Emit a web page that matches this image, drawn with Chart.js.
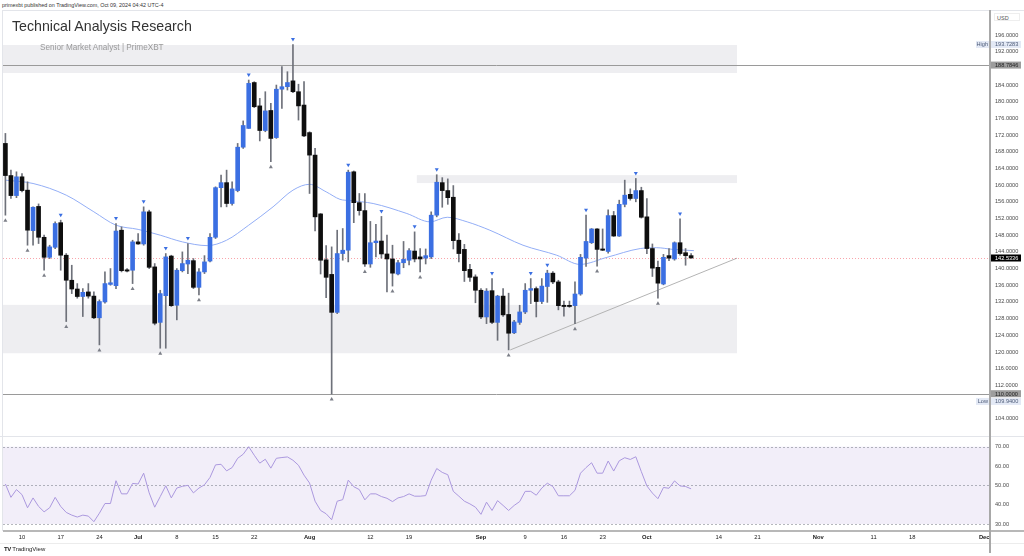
<!DOCTYPE html>
<html><head><meta charset="utf-8">
<script src="https://cdn.jsdelivr.net/npm/chart.js@4.4.1/dist/chart.umd.min.js"></script>
<style>
html,body{margin:0;padding:0;background:#fff;width:1024px;height:556px;overflow:hidden;font-family:'Liberation Sans',Arial,sans-serif;}
.abs{position:absolute;}
canvas{position:absolute;}
</style></head><body>
<div class="abs" style="left:2px;top:2px;font-size:5.4px;color:#333;white-space:nowrap">primexbt published on TradingView.com, Oct 09, 2024 04:42 UTC-4</div>
<div class="abs" style="left:3px;top:10px;width:1021px;height:1px;background:#e3e5ea"></div>
<div class="abs" style="left:2px;top:10px;width:1px;height:521px;background:#e3e5ea"></div>
<canvas id="main" width="1024" height="427" style="left:0;top:10px"></canvas>
<canvas id="rsi" width="1024" height="108" style="left:0;top:437px"></canvas>
<div class="abs" style="left:0;top:436px;width:1024px;height:1px;background:#e3e5ea"></div>
<div class="abs" style="left:3px;top:530px;width:1021px;height:2px;background:#b8b8b8"></div>
<div class="abs" style="left:0;top:543px;width:1024px;height:1px;background:#ececec"></div>
<div class="abs" style="left:989px;top:10px;width:1.5px;height:543px;background:#a8a8a8"></div>
<div class="abs" style="left:12px;top:18px;font-size:14.2px;color:#333;white-space:nowrap">Technical Analysis Research</div>
<div class="abs" style="left:40px;top:42.5px;font-size:8.2px;color:#9a9a9a;white-space:nowrap">Senior Market Analyst | PrimeXBT</div>
<div class="abs" style="left:994px;top:13px;width:26px;height:8px;border:1px solid #eee;background:#fff;font-size:5.5px;color:#555;line-height:8px;padding-left:2px;box-sizing:border-box">USD</div>
<div class="abs" style="left:4px;top:546px;font-size:6px;color:#222;white-space:nowrap"><b style="letter-spacing:-0.5px">TV</b> TradingView</div>
<script>
// ---------- data ----------
const open  = [170.0,162.3,157.5,162.0,158.8,149.1,154.9,147.5,142.7,145.1,151.0,143.2,137.2,135.1,133.3,134.4,133.4,128.2,132.0,136.2,135.9,149.2,139.7,139.6,146.4,145.9,153.6,140.4,127.1,133.5,143.0,131.2,139.5,141.1,141.9,135.5,139.2,141.8,147.5,159.4,160.6,155.6,158.7,169.1,173.6,184.6,179.0,173.1,177.9,171.4,183.0,183.6,185.0,182.4,179.2,172.6,167.2,153.1,142.1,138.6,129.5,143.6,144.4,163.2,155.8,153.9,141.1,146.2,146.6,143.5,142.3,138.7,141.4,142.0,144.2,142.8,142.5,142.8,152.8,160.6,158.7,157.1,146.8,144.6,139.8,138.0,134.8,128.4,134.7,127.1,133.4,129.0,124.6,127.1,129.6,134.8,135.2,132.1,135.7,138.9,136.8,131.2,131.1,131.1,133.9,142.5,146.2,149.5,144.7,144.1,152.7,147.8,155.4,157.8,156.8,158.7,152.4,144.8,140.3,136.3,143.1,142.3,146.2,143.8,143.1];
const high  = [172.4,163.6,163.2,162.8,160.8,154.8,155.5,148.0,145.6,151.2,151.6,143.6,140.8,136.4,135.2,136.4,134.4,132.5,139.2,140.0,150.8,150.0,140.0,146.8,148.4,154.8,154.0,141.2,134.8,143.6,143.2,140.0,144.0,146.0,142.4,140.0,143.1,148.4,159.6,162.4,163.6,160.8,170.0,175.4,185.2,184.8,180.8,182.4,179.6,184.0,188.4,187.2,193.7283,184.2,184.8,172.8,168.8,153.2,145.5,145.2,149.2,149.6,163.6,163.4,158.0,158.0,151.3,150.6,152.5,148.0,145.6,142.0,146.5,144.8,148.8,144.8,144.7,153.6,162.5,161.8,161.5,159.9,148.4,145.8,141.0,138.5,135.2,135.2,137.6,133.6,135.2,134.1,127.6,131.2,136.4,137.6,135.6,137.6,139.6,139.3,137.2,132.2,132.2,136.8,143.4,152.8,149.6,149.6,149.5,154.1,153.7,156.4,161.2,159.1,161.6,159.5,156.8,145.9,141.8,143.4,144.8,146.4,151.9,144.8,143.6];
const low   = [152.8,156.8,157.0,158.4,145.6,145.6,146.0,139.6,142.4,144.8,139.6,127.3,134.0,132.9,128.5,132.9,128.0,121.7,131.7,136.0,135.2,139.2,139.2,136.4,145.8,145.6,140.0,126.5,120.9,120.9,130.9,127.7,139.2,138.8,135.2,133.7,138.8,141.6,147.2,154.8,154.8,155.2,158.4,168.8,173.6,178.6,170.6,172.8,165.6,171.2,178.4,182.8,182.2,175.6,171.6,158.0,149.0,138.7,133.0,109.94,129.2,142.0,141.6,151.0,152.8,140.5,140.3,142.8,142.5,134.4,135.8,138.5,140.2,140.9,141.6,139.2,141.1,142.4,152.4,154.7,155.4,144.7,141.6,136.9,136.9,131.8,128.0,126.8,126.8,122.8,128.5,120.5,124.4,126.6,129.2,131.6,128.4,131.6,131.9,136.4,130.1,128.6,130.7,126.8,133.6,140.5,146.0,140.6,144.3,143.7,147.7,147.7,154.8,156.4,156.0,152.1,143.6,138.1,132.9,136.1,141.9,142.0,143.2,140.8,142.5];
const close = [162.3,157.5,162.0,158.7,149.2,154.7,147.5,142.7,145.2,150.8,143.2,137.2,135.1,133.3,134.3,133.4,128.2,132.1,136.4,136.6,149.0,139.5,139.4,146.4,145.9,153.6,140.3,126.9,134.0,142.8,131.1,139.6,141.2,142.0,135.5,139.2,141.6,147.5,159.4,160.6,155.6,159.1,169.1,174.3,184.4,178.8,173.1,177.8,171.2,183.0,183.6,184.6,182.4,179.0,171.8,167.2,152.4,142.0,137.9,129.5,143.6,144.4,163.1,155.8,153.9,141.1,146.2,146.6,143.5,142.3,138.9,141.4,142.2,144.3,142.3,142.3,143.1,152.8,160.7,158.7,157.0,146.7,143.6,139.5,137.9,134.8,128.4,134.6,127.1,133.4,128.9,124.5,127.2,129.6,134.8,135.2,132.1,135.8,138.9,136.8,131.1,130.9,130.9,133.9,142.7,146.5,149.5,144.6,144.4,152.7,147.8,155.4,157.6,156.8,158.7,152.3,144.8,140.1,136.5,142.7,142.5,146.2,143.6,143.1,142.5336];
const pivotHighIdx = [10,20,25,29,33,44,52,62,68,74,78,88,95,98,105,114,122];
const pivotLowIdx  = [0,4,7,11,17,23,28,35,48,59,65,70,75,91,103,107,118];
const maIdx = [0,5,11,16,20,24,28,32,36.5,40,44,48.4,52,55,58,60.5,62.3,66.5,72.6,76.8,79.9,83.5,87.6,93.6,99.7,103.9,108.8,114.8,117.8,120.7,124.5];
const maVal = [161.2,160.4,157.6,153.6,150.4,149.4,148.0,146.4,145.5,146.8,150.4,154.8,158.8,160.2,158.4,156.6,156.3,155.6,153.2,151.2,152.3,151.2,149.2,145.6,143.2,141.0,142.7,144.8,145.0,144.6,144.3];
const rsi = [50.7,43.8,47.8,45.2,38.4,43.5,39.1,36.3,38.4,43.8,39.1,36.0,34.6,33.6,34.6,34.1,31.2,35.6,40.6,40.6,52.4,45.6,45.6,51.0,50.7,56.3,46.1,38.7,44.2,49.8,43.5,48.6,49.5,50.0,46.1,48.6,50.3,54.1,60.6,60.9,57.5,59.2,64.0,66.1,70.0,65.6,61.5,63.5,58.9,64.0,64.4,64.7,63.0,60.4,55.3,51.2,41.8,37.0,35.3,32.2,41.8,42.6,52.7,49.3,47.8,42.5,45.6,45.6,44.2,43.3,41.6,43.5,44.2,45.6,44.4,44.4,44.7,52.7,58.7,56.7,55.5,46.9,44.4,41.8,40.4,38.7,35.0,41.3,37.0,42.1,39.6,37.0,39.6,41.6,46.9,46.9,44.9,48.6,51.1,49.4,44.6,44.6,44.6,47.4,56.3,59.2,61.7,56.3,56.3,62.6,57.4,62.7,64.3,63.4,64.8,57.1,49.7,46.0,43.1,48.9,48.5,52.3,49.7,49.4,48.2];
const timeTickIdx  = [3,10,17,24,31,38,45,55,66,73,86,94,101,108,116,129,136,147,157,164,177];
const timeTickText = ['10','17','24','Jul','8','15','22','Aug','12','19','Sep','9','16','23','Oct','14','21','Nov','11','18','Dec'];
const monthNames = ['Jul','Aug','Sep','Oct','Nov','Dec'];
const priceTicks = [196,192,184,180,176,172,168,164,160,156,152,148,144,140,136,132,128,124,120,116,112,104];
const rsiTicks = [70,60,50,40,30];
const rsiBand = [70,50,30];
const zoneFrom = [-1,74.4,-1];
const zoneTo   = [132.3,132.3,132.3];
const zoneHigh = [193.6,162.4,131.3];
const zoneLow  = [186.9,160.5,119.7];
const hLevels  = [188.7846,110.0];
const trendStart = [91.3,120.5];
const trendEnd   = [132.3,142.5];

// ---------- styles ----------
const F = "'Liberation Sans', Arial, sans-serif";
const BLUE = '#3b6fe2', BLACK = '#0e0e0e', WICK = '#6e717a';
const XMIN = -0.434, XMAX = 178.05;
const idx = open.map((_, i) => i);

const levelsPlugin = {
  id: 'levels',
  beforeDatasetsDraw(chart) {
    const {ctx, chartArea: a, scales: {x, y}} = chart;
    ctx.save();
    ctx.beginPath(); ctx.rect(a.left, a.top, a.right - a.left, a.bottom - a.top); ctx.clip();
    ctx.fillStyle = '#eeeef1';
    for (let k = 0; k < zoneHigh.length; k++) {
      const x0 = Math.max(a.left, x.getPixelForValue(zoneFrom[k])), x1 = x.getPixelForValue(zoneTo[k]);
      const y0 = y.getPixelForValue(zoneHigh[k]), y1 = y.getPixelForValue(zoneLow[k]);
      ctx.fillRect(x0, y0, x1 - x0, y1 - y0);
    }
    ctx.strokeStyle = '#9a9a9a'; ctx.lineWidth = 1;
    hLevels.forEach(v => { const yy = Math.round(y.getPixelForValue(v)) + 0.5; ctx.beginPath(); ctx.moveTo(a.left, yy); ctx.lineTo(a.right, yy); ctx.stroke(); });
    ctx.strokeStyle = '#b4b4b4';
    ctx.beginPath(); ctx.moveTo(x.getPixelForValue(trendStart[0]), y.getPixelForValue(trendStart[1]));
    ctx.lineTo(x.getPixelForValue(trendEnd[0]), y.getPixelForValue(trendEnd[1])); ctx.stroke();
    const last = close[close.length - 1];
    ctx.strokeStyle = 'rgba(242,54,69,0.45)'; ctx.setLineDash([1, 2]);
    const yl = Math.round(y.getPixelForValue(last)) + 0.5;
    ctx.beginPath(); ctx.moveTo(a.left, yl); ctx.lineTo(a.right, yl); ctx.stroke();
    ctx.restore();
  },
  afterDatasetsDraw(chart) {
    const {ctx, scales: {x, y}} = chart;
    ctx.save();
    ctx.fillStyle = BLUE;
    pivotHighIdx.forEach(i => {
      const px = x.getPixelForValue(i), py = y.getPixelForValue(high[i]) - 3;
      ctx.beginPath(); ctx.moveTo(px - 2, py - 3.5); ctx.lineTo(px + 2, py - 3.5); ctx.lineTo(px, py); ctx.closePath(); ctx.fill();
    });
    ctx.fillStyle = '#7b7e87';
    pivotLowIdx.forEach(i => {
      const px = x.getPixelForValue(i), py = y.getPixelForValue(low[i]) + 3;
      ctx.beginPath(); ctx.moveTo(px - 2, py + 3.5); ctx.lineTo(px + 2, py + 3.5); ctx.lineTo(px, py); ctx.closePath(); ctx.fill();
    });
    ctx.restore();
  },
  afterDraw(chart) {
    const {ctx, scales: {y}} = chart;
    const hi = Math.max(...high), lo = Math.min(...low), last = close[close.length - 1];
    const tags = [
      {v: hi, t: hi.toFixed(4), tag: 'High', bg: '#e3e9f5', fg: '#4d5b78', dy: 0},
      {v: hLevels[0], t: hLevels[0].toFixed(4), bg: '#9d9d9d', fg: '#1e1e1e', dy: 0},
      {v: last, t: last.toFixed(4), bg: '#000', fg: '#fff', dy: 0},
      {v: hLevels[1], t: hLevels[1].toFixed(4), bg: '#9d9d9d', fg: '#1e1e1e', dy: 0},
      {v: lo, t: lo.toFixed(4), tag: 'Low', bg: '#e3e9f5', fg: '#4d5b78', dy: 7.5}
    ];
    ctx.save();
    ctx.font = '5.6px ' + F; ctx.textBaseline = 'middle';
    tags.forEach(o => {
      const py = y.getPixelForValue(o.v) + o.dy;
      ctx.fillStyle = o.bg; ctx.fillRect(991, py - 3.5, 30, 7);
      ctx.fillStyle = o.fg; ctx.textAlign = 'left'; ctx.fillText(o.t, 995, py + 0.3);
      if (o.tag) {
        ctx.fillStyle = o.bg; ctx.fillRect(976, py - 3.5, 14, 7);
        ctx.fillStyle = o.fg; ctx.textAlign = 'right'; ctx.fillText(o.tag, 988, py + 0.3);
      }
    });
    ctx.restore();
  }
};

new Chart(document.getElementById('main'), {
  type: 'bar',
  data: {
    datasets: [
      {type: 'line', data: maIdx.map((v, k) => ({x: v, y: maVal[k]})), borderColor: '#93aef6', borderWidth: 1,
       pointRadius: 0, tension: 0.4, cubicInterpolationMode: 'monotone', order: 3},
      {type: 'bar', data: idx.map(i => ({x: i, y: [low[i], high[i]]})), backgroundColor: WICK,
       barThickness: 1, grouped: false, order: 2},
      {type: 'bar', data: idx.map(i => ({x: i, y: [open[i], close[i]]})),
       backgroundColor: idx.map(i => close[i] >= open[i] ? BLUE : BLACK),
       barThickness: 4, minBarLength: 1.2, grouped: false, order: 1}
    ]
  },
  options: {
    responsive: false, animation: false, devicePixelRatio: 1,
    layout: {padding: {left: 3, right: 0, top: 0, bottom: 0}},
    plugins: {legend: {display: false}, tooltip: {enabled: false}},
    scales: {
      x: {type: 'linear', min: XMIN, max: XMAX, display: false, offset: false},
      y: {
        position: 'right', min: 99.62, max: 201.99,
        afterBuildTicks: s => { s.ticks = priceTicks.map(v => ({value: v})); },
        afterFit: s => { s.width = 34; s.paddingTop = 0; s.paddingBottom = 0; },
        grid: {display: false, drawTicks: false},
        border: {display: false},
        ticks: {font: {size: 5.6, family: F}, color: '#4a4a4a', padding: 5, callback: v => Number(v).toFixed(4)}
      }
    }
  },
  plugins: [levelsPlugin]
});

const rsiPlugin = {
  id: 'rsiband',
  beforeDatasetsDraw(chart) {
    const {ctx, chartArea: a, scales: {y}} = chart;
    ctx.save();
    const y0 = y.getPixelForValue(rsiBand[0]), y1 = y.getPixelForValue(rsiBand[2]);
    ctx.fillStyle = 'rgba(126,87,194,0.10)';
    ctx.fillRect(a.left, y0, a.right - a.left, y1 - y0);
    ctx.strokeStyle = 'rgba(120,123,134,0.55)'; ctx.lineWidth = 1; ctx.setLineDash([2, 2]);
    rsiBand.forEach(v => { const yy = Math.round(y.getPixelForValue(v)) + 0.5; ctx.beginPath(); ctx.moveTo(a.left, yy); ctx.lineTo(a.right, yy); ctx.stroke(); });
    ctx.restore();
  }
};

new Chart(document.getElementById('rsi'), {
  type: 'line',
  data: {datasets: [{data: rsi.map((v, i) => ({x: i, y: v})), borderColor: '#ab98de', borderWidth: 1, pointRadius: 0, tension: 0}]},
  options: {
    responsive: false, animation: false, devicePixelRatio: 1,
    layout: {padding: {left: 3, right: 0, top: 0, bottom: 0}},
    plugins: {legend: {display: false}, tooltip: {enabled: false}},
    scales: {
      x: {
        type: 'linear', min: XMIN, max: XMAX, position: 'bottom', offset: false,
        grid: {display: false, drawTicks: false}, border: {display: false},
        afterBuildTicks: s => { s.ticks = timeTickIdx.map(v => ({value: v})); },
        afterFit: s => { s.height = 14; s.paddingLeft = 0; s.paddingRight = 0; },
        ticks: {
          autoSkip: false, maxRotation: 0, minRotation: 0, padding: 3, color: '#1a1a1a',
          font: c => ({size: 5.8, family: F, weight: monthNames.includes(timeTickText[c.index]) ? 'bold' : 'normal'}),
          callback: (v, i) => timeTickText[i]
        }
      },
      y: {
        position: 'right', min: 26.38, max: 75.02,
        afterBuildTicks: s => { s.ticks = rsiTicks.map(v => ({value: v})); },
        afterFit: s => { s.width = 34; s.paddingTop = 0; s.paddingBottom = 0; },
        grid: {display: false, drawTicks: false}, border: {display: false},
        ticks: {font: {size: 5.6, family: F}, color: '#4a4a4a', padding: 5, callback: v => Number(v).toFixed(2)}
      }
    }
  },
  plugins: [rsiPlugin]
});
</script>
</body></html>
